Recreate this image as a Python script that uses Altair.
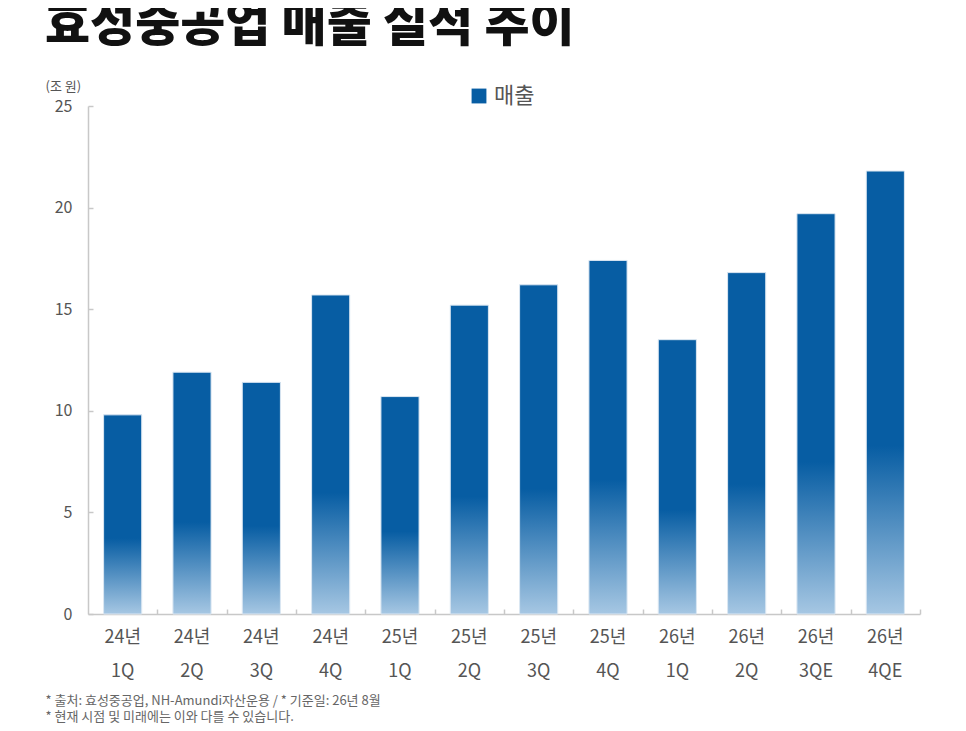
import altair as alt
import pandas as pd

# quarterly sales, trillion won (E = estimate)
quarters = ["24년 1Q", "24년 2Q", "24년 3Q", "24년 4Q",
            "25년 1Q", "25년 2Q", "25년 3Q", "25년 4Q",
            "26년 1Q", "26년 2Q", "26년 3QE", "26년 4QE"]
sales = [9.8, 11.9, 11.4, 15.7, 10.7, 15.2, 16.2, 17.4, 13.5, 16.8, 19.7, 21.8]
series = ["매출"] * len(quarters)
y_ticks = [0, 5, 10, 15, 20, 25]
notes = ["* 출처: 효성중공업, NH-Amundi자산운용 / * 기준일: 26년 8월",
         "* 현재 시점 및 미래에는 이와 다를 수 있습니다."]

df = pd.DataFrame({"quarter": quarters, "sales": sales, "series": series})

FONT = "Noto Sans CJK KR"
BLUE = "#075da3"
AXIS = "#c8c8c8"
W, H = 832, 508

grad = alt.Gradient(
    gradient="linear", x1=0, x2=0, y1=0, y2=1,
    stops=[alt.GradientStop(offset=0, color=BLUE),
           alt.GradientStop(offset=0.62, color=BLUE),
           alt.GradientStop(offset=1, color="#a6c7e3")],
)

xscale = alt.Scale(paddingInner=0.45, paddingOuter=0.225)
yscale = alt.Scale(domain=[0, 25], nice=False)

base = alt.Chart(df)

bars = base.mark_bar(fill=grad, stroke="#dbe7f2", strokeWidth=1).encode(
    x=alt.X("quarter:N", sort=None, scale=xscale,
            axis=alt.Axis(labelExpr="split(datum.label, ' ')", labelAngle=0,
                          labelFontSize=18, labelColor="#555", labelFont=FONT,
                          labelLineHeight=34, labelPadding=14, ticks=False,
                          domainColor=AXIS, domainWidth=1.5,
                          title=notes, titleFont=FONT, titleFontSize=13,
                          titleFontWeight="normal", titleColor="#666",
                          titleLineHeight=16, titleAlign="left", titleAnchor="start",
                          titleX=-43, titleY=86, titleBaseline="middle")),
    y=alt.Y("sales:Q", scale=yscale,
            axis=alt.Axis(values=y_ticks, grid=False, ticks=False,
                          labelFontSize=16, labelColor="#555", labelFont=FONT,
                          labelPadding=16, domainColor=AXIS, domainWidth=1.5,
                          title="(조 원)", titleAngle=0, titleFont=FONT,
                          titleFontSize=13, titleFontWeight="normal",
                          titleColor="#555", titleAlign="left",
                          titleX=-43, titleY=-20, titleBaseline="middle")),
)

# inward ticks: opposite-side axes pulled across the plot onto the main axes
marks = base.mark_square(opacity=0).encode(
    x=alt.X("quarter:N", sort=None, scale=xscale,
            axis=alt.Axis(orient="top", labels=False, domain=False,
                          tickOffset=W / len(quarters) / 2, tickSize=5,
                          tickColor=AXIS, tickWidth=1.5, offset=-H,
                          title=None, zindex=1)),
    y=alt.Y("sales:Q", scale=yscale,
            axis=alt.Axis(orient="right", values=y_ticks, labels=False,
                          domain=False, grid=False, tickSize=5, tickColor=AXIS,
                          tickWidth=1.5, offset=-W, title=None, zindex=1)),
    color=alt.Color("series:N", scale=alt.Scale(range=[BLUE]),
                    legend=alt.Legend(title=None, orient="none", legendX=380,
                                      legendY=-21, symbolType="square",
                                      symbolSize=220, symbolOpacity=1,
                                      labelFontSize=22, labelColor="#555",
                                      labelFont=FONT, padding=0)),
)

chart = alt.layer(bars, marks).resolve_axis(x="independent", y="independent").properties(
    width=W,
    height=H,
    autosize=alt.AutoSizeParams(type="none"),
    padding={"left": 80, "top": 98, "right": 38, "bottom": 109},
    title=alt.TitleParams("효성중공업 매출 실적 추이", font=FONT, fontSize=49,
                          fontWeight=900, color="#111", anchor="start",
                          frame="group", dx=-43, offset=29),
).configure_view(stroke=None)

chart.save("out.html", embed_options={"renderer": "svg", "actions": False})
